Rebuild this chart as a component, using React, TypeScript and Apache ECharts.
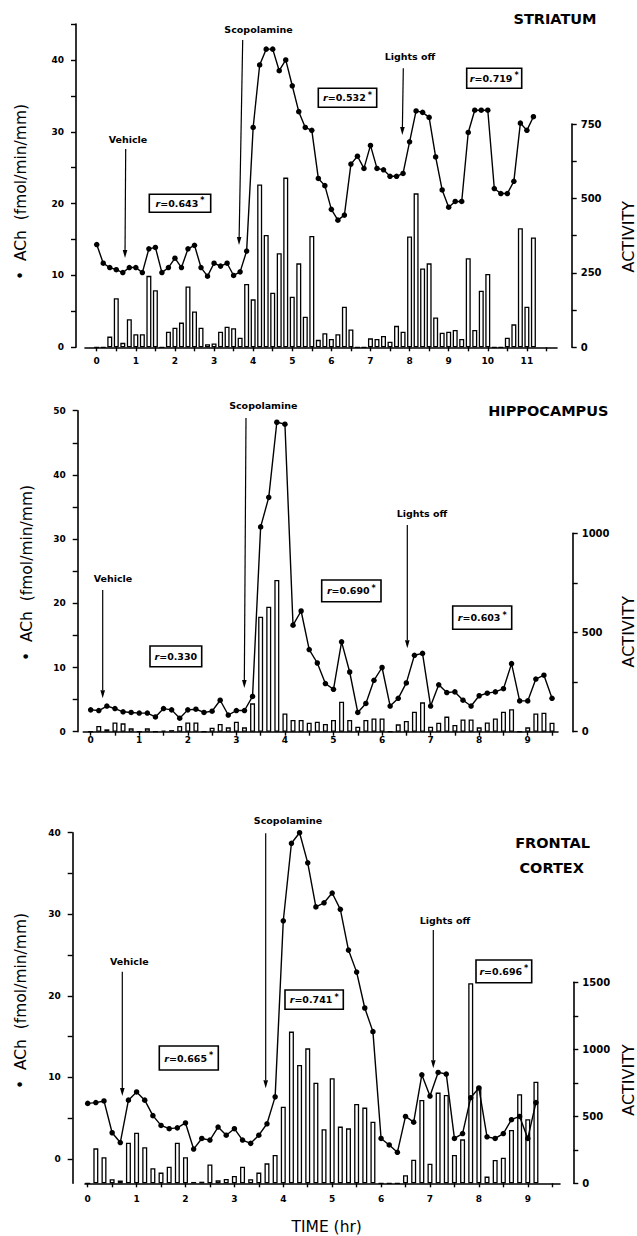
import React, { useEffect, useRef } from "react";
import * as echarts from "echarts";

// ---- data (10-minute samples, time in hours) ----
const SAMPLE_HR = 1 / 6;

const STRIATUM_ACH = [14.3, 11.7, 11.1, 10.8, 10.4, 11.1, 11.1, 10.4, 13.7, 13.9, 10.4, 11.1, 12.4, 11.1, 13.7, 14.2, 11.1, 9.9, 11.7, 11.3, 11.7, 10.0, 10.5, 13.4, 30.6, 39.3, 41.5, 41.5, 38.5, 40.0, 36.4, 32.8, 30.6, 30.2, 23.5, 22.5, 19.2, 17.7, 18.4, 25.5, 26.6, 24.9, 28.1, 24.9, 24.7, 23.8, 23.8, 24.2, 28.6, 32.9, 32.7, 32.0, 26.5, 21.9, 19.5, 20.3, 20.3, 29.9, 33.0, 33.0, 33.0, 22.1, 21.4, 21.4, 23.1, 31.2, 30.2, 32.1];
const STRIATUM_ACTIVITY = [0, 0, 36, 165, 15, 94, 44, 44, 240, 192, 0, 52, 66, 83, 204, 120, 66, 10, 13, 52, 69, 64, 32, 213, 161, 547, 377, 183, 316, 570, 170, 282, 103, 374, 25, 47, 28, 44, 136, 60, 0, 0, 30, 28, 38, 19, 72, 52, 372, 517, 265, 282, 100, 49, 52, 58, 28, 299, 58, 190, 246, 0, 0, 32, 77, 400, 136, 369];

const HIPPO_ACH = [3.4, 3.3, 4.0, 3.6, 3.1, 3.0, 2.9, 2.9, 2.3, 3.6, 3.4, 2.1, 3.4, 3.5, 3.0, 3.2, 4.9, 2.6, 3.3, 3.3, 5.5, 31.9, 36.5, 48.2, 47.9, 16.6, 18.8, 12.8, 10.7, 7.5, 6.6, 14.0, 9.3, 3.0, 4.4, 8.0, 10.0, 4.0, 5.2, 7.6, 11.9, 12.2, 4.0, 7.3, 6.1, 6.2, 4.9, 4.0, 5.6, 6.0, 6.2, 6.7, 10.6, 4.8, 4.8, 8.2, 8.8, 5.2];
const HIPPO_ACTIVITY = [0, 29, 12, 47, 42, 17, 0, 17, 0, 5, 8, 29, 47, 47, 0, 20, 39, 22, 50, 22, 143, 580, 630, 765, 92, 59, 59, 45, 50, 39, 59, 151, 59, 25, 59, 67, 67, 0, 37, 54, 101, 148, 25, 45, 76, 34, 62, 62, 22, 47, 67, 101, 113, 0, 22, 92, 96, 45];

const FRONTAL_ACH = [6.8, 6.9, 7.1, 3.2, 2.0, 7.2, 8.2, 7.2, 5.3, 4.1, 3.7, 3.8, 4.4, 1.2, 2.5, 2.3, 3.9, 2.9, 3.7, 2.3, 1.9, 2.9, 4.3, 7.6, 29.2, 38.7, 40.0, 36.3, 30.9, 31.4, 32.6, 30.6, 25.6, 22.9, 18.5, 15.6, 2.5, 1.7, 0.8, 5.2, 4.5, 10.3, 7.7, 10.6, 10.4, 2.5, 3.1, 7.5, 8.7, 2.7, 2.5, 3.1, 4.8, 5.2, 2.5, 6.9];
const FRONTAL_ACTIVITY = [0, 261, 194, 30, 20, 303, 378, 269, 112, 80, 124, 303, 194, 10, 12, 140, 22, 32, 55, 124, 30, 80, 149, 211, 572, 1132, 883, 1007, 751, 403, 784, 423, 410, 592, 565, 460, 0, 0, 0, 60, 176, 622, 146, 677, 659, 211, 328, 1493, 720, 50, 174, 191, 398, 664, 478, 758];

const X_LABELS_STRIATUM = [0, 1, 2, 3, 4, 5, 6, 7, 8, 9, 10, 11];
const X_TICKS_STRIATUM = [0, 0.5, 1, 1.5, 2, 2.5, 3, 3.5, 4, 4.5, 5, 5.5, 6, 6.5, 7, 7.5, 8, 8.5, 9, 9.5, 10, 10.5, 11, 11.5];
const X_LABELS_9 = [0, 1, 2, 3, 4, 5, 6, 7, 8, 9];
const X_TICKS_9 = [0, 0.5, 1, 1.5, 2, 2.5, 3, 3.5, 4, 4.5, 5, 5.5, 6, 6.5, 7, 7.5, 8, 8.5, 9, 9.5];

const ACH_LABELS_40 = [0, 10, 20, 30, 40];
const ACH_TICKS_45 = [0, 5, 10, 15, 20, 25, 30, 35, 40, 45];
const ACH_LABELS_50 = [0, 10, 20, 30, 40, 50];
const ACH_TICKS_50 = [0, 5, 10, 15, 20, 25, 30, 35, 40, 45, 50];
const ACH_TICKS_40 = [0, 5, 10, 15, 20, 25, 30, 35, 40];

const ACT_LABELS_750 = [0, 250, 500, 750];
const ACT_TICKS_750 = [0, 125, 250, 375, 500, 625, 750];
const ACT_LABELS_1000 = [0, 500, 1000];
const ACT_TICKS_1000 = [0, 250, 500, 750, 1000];
const ACT_LABELS_1500 = [0, 500, 1000, 1500];
const ACT_TICKS_1500 = [0, 250, 500, 750, 1000, 1250, 1500];

const FONT = "DejaVu Sans";
const W = 637;

// ---- layout (pixels) ----
const PANELS = [
  {
    ach: STRIATUM_ACH, act: STRIATUM_ACTIVITY,
    xMin: -0.3, xMax: 11.77, xLabels: X_LABELS_STRIATUM, xTicks: X_TICKS_STRIATUM, xLabelMargin: 9,
    yMin: 0, yMax: 45, yLabels: ACH_LABELS_40, yTicks: ACH_TICKS_45,
    actMax: 750, actLabels: ACT_LABELS_750, actTicks: ACT_TICKS_750,
    gridLeft: 85, gridRightX: 557, lineTop: 24, baseline: 347.3, barTop: 124,
    leftAxisX: 76, rightAxisX: 571.7,
  },
  {
    ach: HIPPO_ACH, act: HIPPO_ACTIVITY,
    xMin: -0.152, xMax: 9.623, xLabels: X_LABELS_9, xTicks: X_TICKS_9, xLabelMargin: 4,
    yMin: 0, yMax: 50, yLabels: ACH_LABELS_50, yTicks: ACH_TICKS_50,
    actMax: 1000, actLabels: ACT_LABELS_1000, actTicks: ACT_TICKS_1000,
    gridLeft: 83.3, gridRightX: 558, lineTop: 410.7, baseline: 731.7, barTop: 533.3,
    leftAxisX: 77.7, rightAxisX: 572.7,
  },
  {
    ach: FRONTAL_ACH, act: FRONTAL_ACTIVITY,
    xMin: -0.055, xMax: 9.659, xLabels: X_LABELS_9, xTicks: X_TICKS_9, xLabelMargin: 11,
    yMin: -3, yMax: 40, yLabels: ACH_LABELS_40, yTicks: ACH_TICKS_40,
    actMax: 1500, actLabels: ACT_LABELS_1500, actTicks: ACT_TICKS_1500,
    gridLeft: 85, gridRightX: 560, lineTop: 832.7, baseline: 1183.3, barTop: 982.3,
    leftAxisX: 72.7, rightAxisX: 573.3,
  },
];

const toPairs = (values: number[]) => values.map((v, i) => [i * SAMPLE_HR, v]);

function arrow(x1: number, y1: number, x2: number, y2: number) {
  const ang = Math.atan2(y2 - y1, x2 - x1);
  const len = 8, half = 2.3;
  const bx = x2 - len * Math.cos(ang), by = y2 - len * Math.sin(ang);
  const px = -Math.sin(ang) * half, py = Math.cos(ang) * half;
  return [
    { type: "line", z: 100, shape: { x1, y1, x2: bx, y2: by }, style: { stroke: "#000", lineWidth: 1.2 } },
    { type: "polygon", z: 100, shape: { points: [[x2, y2], [bx + px, by + py], [bx - px, by - py]] }, style: { fill: "#000" } },
  ];
}

function label(text: string, x: number, y: number, size = 9.5, weight: any = "bold", rotation = 0) {
  return {
    type: "text", z: 100, x, y, rotation,
    style: { text, fontFamily: FONT, fontSize: size, fontWeight: weight, fill: "#000", align: "center", verticalAlign: "middle" },
  };
}

function rBox(x: number, y: number, w: number, h: number, value: string, star: boolean) {
  return [
    { type: "rect", z: 100, shape: { x, y, width: w, height: h }, style: { fill: "#fff", stroke: "#000", lineWidth: 1.6 } },
    {
      type: "text", z: 101, x: x + w / 2, y: y + h / 2,
      style: {
        text: "{i|r}{n|=" + value + "}" + (star ? "{s|*}" : ""),
        align: "center", verticalAlign: "middle", fill: "#000",
        rich: {
          i: { fontFamily: FONT, fontSize: 9.5, fontWeight: "bold", fontStyle: "italic", fill: "#000" },
          n: { fontFamily: FONT, fontSize: 9.5, fontWeight: "bold", fill: "#000" },
          s: { fontFamily: FONT, fontSize: 8, fontWeight: "bold", fill: "#000", verticalAlign: "top", padding: [0, 0, 5, 2] },
        },
      },
    },
  ];
}

const ANNOTATIONS: any[] = [
  // Striatum
  label("STRIATUM", 555, 19, 14.5, "bold"),
  label("Vehicle", 128, 139.3), ...arrow(125.7, 149, 125, 258),
  label("Scopolamine", 258.5, 29), ...arrow(242.7, 40, 239, 245),
  label("Lights off", 410, 56.7), ...arrow(403.3, 68.3, 402.3, 135),
  ...rBox(149.3, 194.3, 61.4, 18, "0.643", true),
  ...rBox(318.3, 88.3, 58.4, 19, "0.532", true),
  ...rBox(466.7, 68.3, 55, 20, "0.719", true),
  label("•  ACh  (fmol/min/mm)", 21, 192, 15.5, "normal", Math.PI / 2),
  label("ACTIVITY", 628, 236.7, 16, "normal", Math.PI / 2),
  // Hippocampus
  label("HIPPOCAMPUS", 548.3, 410.8, 14.5, "bold"),
  label("Vehicle", 113, 578), ...arrow(102.7, 590, 102.7, 698.3),
  label("Scopolamine", 263.3, 405.5), ...arrow(246, 418, 244.3, 688),
  label("Lights off", 422, 513), ...arrow(407.3, 525, 407.3, 648.3),
  ...rBox(150, 646, 51.7, 20.7, "0.330", false),
  ...rBox(321.7, 580, 59.3, 21.7, "0.690", true),
  ...rBox(452.7, 606, 59, 23.3, "0.603", true),
  label("•  ACh  (fmol/min/mm)", 26.5, 573, 15.5, "normal", Math.PI / 2),
  label("ACTIVITY", 628, 631.7, 16, "normal", Math.PI / 2),
  // Frontal cortex
  label("FRONTAL", 552.5, 843, 14.5, "bold"),
  label("CORTEX", 551.7, 868, 14.5, "bold"),
  label("Vehicle", 129.3, 961.7), ...arrow(122.3, 971.7, 122.3, 1096),
  label("Scopolamine", 288, 820), ...arrow(265.7, 833.3, 265.7, 1088.3),
  label("Lights off", 445, 920), ...arrow(433.3, 930, 433.3, 1068.3),
  ...rBox(159.3, 1046, 59, 24, "0.665", true),
  ...rBox(285, 990, 58.3, 19.3, "0.741", true),
  ...rBox(476, 960, 55.7, 22.7, "0.696", true),
  label("•  ACh  (fmol/min/mm)", 21, 1001, 15.5, "normal", Math.PI / 2),
  label("ACTIVITY", 628, 1080, 16, "normal", Math.PI / 2),
  label("TIME (hr)", 326.7, 1227, 15.5, "normal"),
];

function buildOption() {
  const grid: any[] = [], xAxis: any[] = [], yAxis: any[] = [], series: any[] = [];
  const tickLabel = { color: "#000", fontFamily: FONT, fontWeight: "bold", fontSize: 9, formatter: (v: number) => String(v) };
  PANELS.forEach((p) => {
    const gi = grid.length;
    const right = W - p.gridRightX;
    grid.push({ left: p.gridLeft, right, top: p.lineTop, height: p.baseline - p.lineTop });
    grid.push({ left: p.gridLeft, right, top: p.barTop, height: p.baseline - p.barTop });
    xAxis.push({
      type: "value", gridIndex: gi, min: p.xMin, max: p.xMax,
      axisLine: { show: true, onZero: false, lineStyle: { color: "#000", width: 1.6 } },
      axisTick: { show: true, customValues: p.xTicks, length: 4, lineStyle: { color: "#000", width: 1.4 } },
      axisLabel: { ...tickLabel, customValues: p.xLabels, margin: p.xLabelMargin },
      splitLine: { show: false },
    });
    xAxis.push({ type: "value", gridIndex: gi + 1, min: p.xMin, max: p.xMax, show: false });
    yAxis.push({
      type: "value", gridIndex: gi, position: "left", offset: p.gridLeft - p.leftAxisX,
      min: p.yMin, max: p.yMax,
      axisLine: { show: true, onZero: false, lineStyle: { color: "#000", width: 1.6 } },
      axisTick: { show: true, customValues: p.yTicks, length: 5, lineStyle: { color: "#000", width: 1.4 } },
      axisLabel: { ...tickLabel, customValues: p.yLabels, margin: 12 },
      splitLine: { show: false },
    });
    yAxis.push({
      type: "value", gridIndex: gi + 1, position: "right", offset: p.rightAxisX - p.gridRightX,
      min: 0, max: p.actMax,
      axisLine: { show: true, onZero: false, lineStyle: { color: "#000", width: 1.6 } },
      axisTick: { show: true, customValues: p.actTicks, length: 5, lineStyle: { color: "#000", width: 1.4 } },
      axisLabel: { ...tickLabel, fontSize: 10, customValues: p.actLabels, margin: 9 },
      splitLine: { show: false },
    });
    series.push({
      type: "bar", xAxisIndex: gi + 1, yAxisIndex: gi + 1, data: toPairs(p.act), barWidth: 5, z: 2,
      itemStyle: { color: "#fff", borderColor: "#000", borderWidth: 1.3 },
    });
    series.push({
      type: "line", xAxisIndex: gi, yAxisIndex: gi, data: toPairs(p.ach), z: 5,
      symbol: "circle", symbolSize: 5.5, showSymbol: true,
      lineStyle: { color: "#000", width: 1.4 }, itemStyle: { color: "#000" },
    });
  });
  return {
    animation: false,
    backgroundColor: "#fff",
    textStyle: { fontFamily: FONT },
    grid, xAxis, yAxis, series,
    graphic: { elements: ANNOTATIONS },
  };
}

export default function App() {
  const ref = useRef<HTMLDivElement>(null);
  useEffect(() => {
    if (!ref.current) return;
    const chart = echarts.init(ref.current, undefined, { renderer: "svg" });
    chart.setOption(buildOption() as any);
    return () => chart.dispose();
  }, []);
  return (
    <div
      ref={ref}
      style={{ position: "absolute", left: 0, top: 0, width: 637, height: 1236, background: "#fff" }}
    />
  );
}
